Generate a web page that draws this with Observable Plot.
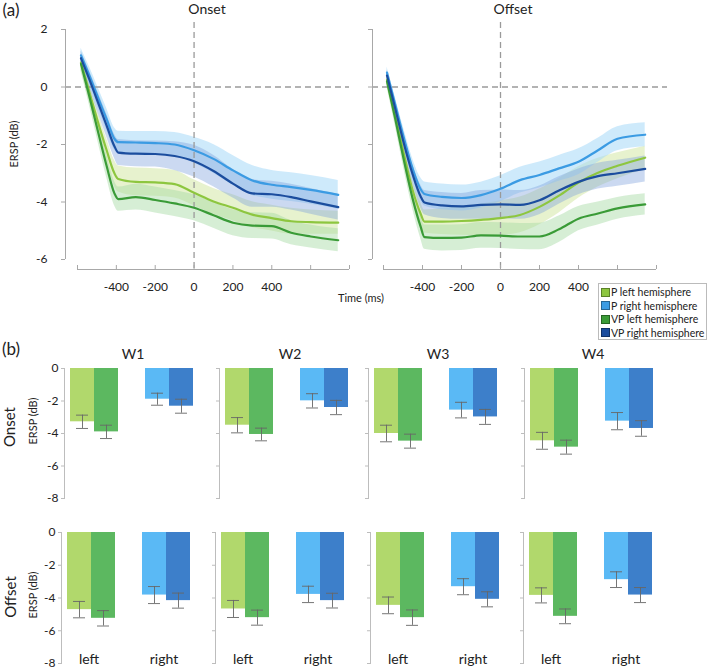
<!DOCTYPE html>
<html><head><meta charset="utf-8">
<script src="https://cdn.jsdelivr.net/npm/d3@7"></script>
<script src="https://cdn.jsdelivr.net/npm/@observablehq/plot@0.6"></script>
<style>
body{margin:0;background:#fff;font-family:Lato,"Open Sans",sans-serif;color:#222;}
#root{position:relative;width:709px;height:671px;overflow:hidden;background:#fff;}
.t{position:absolute;white-space:nowrap;transform:translate(-50%,-50%);line-height:1;}
.legend{position:absolute;border:1px solid #bbb;background:#fff;font-size:10.5px;box-sizing:border-box;}
.legend div{display:flex;align-items:center;height:13.5px;}
.legend span.sw{display:inline-block;width:9px;height:9px;margin:0 1px 0 2px;box-sizing:border-box;border:1px solid rgba(0,0,0,0.35);}
</style></head>
<body><div id="root"></div>
<script>
// ---------- data: panel (a) ----------
const times = [-582,-540,-500,-450,-410,-390,-300,-200,-100,0,100,200,300,400,500,600,742];
const seriesKeys = ["P left hemisphere","P right hemisphere","VP left hemisphere","VP right hemisphere"];
const lineColors = ["#8dc63f","#3b9be3","#3a9b37","#1b4d9e"];
const bandColors = ["#cfe59d","#a6d9f7","#a3d9a1","#7c9fdb"];
const bandOpacity = [0.5,0.55,0.45,0.4];

const onsetPLeft   = [0.85,-0.15,-1.1,-2.2,-3.0,-3.2,-3.3,-3.32,-3.38,-3.68,-3.98,-4.2,-4.44,-4.56,-4.67,-4.7,-4.72];
const onsetPRight  = [1.1,0.42,-0.27,-1.12,-1.8,-1.92,-1.93,-1.95,-2.0,-2.2,-2.5,-2.9,-3.25,-3.4,-3.48,-3.58,-3.75];
const onsetVPLeft  = [0.8,-0.3,-1.4,-2.75,-3.7,-3.9,-3.83,-3.93,-4.05,-4.2,-4.46,-4.72,-4.82,-4.84,-5.07,-5.2,-5.33];
const onsetVPRight = [1.0,0.28,-0.44,-1.34,-2.06,-2.28,-2.32,-2.33,-2.4,-2.58,-2.92,-3.36,-3.7,-3.73,-3.83,-3.98,-4.18];
const onsetSEPLeft   = [0.25,0.3,0.35,0.4,0.45,0.45,0.48,0.48,0.48,0.45,0.45,0.45,0.45,0.45,0.45,0.42,0.4];
const onsetSEPRight  = [0.25,0.3,0.35,0.38,0.38,0.38,0.38,0.4,0.42,0.45,0.5,0.52,0.52,0.5,0.5,0.5,0.5];
const onsetSEVPLeft  = [0.25,0.3,0.35,0.4,0.42,0.42,0.45,0.45,0.45,0.45,0.45,0.45,0.45,0.45,0.42,0.4,0.4];
const onsetSEVPRight = [0.25,0.3,0.35,0.4,0.42,0.45,0.45,0.45,0.5,0.55,0.55,0.5,0.48,0.45,0.45,0.45,0.45];

const offsetPLeft   = [0.25,-1.0,-2.2,-3.6,-4.4,-4.68,-4.68,-4.66,-4.62,-4.56,-4.45,-4.17,-3.78,-3.32,-2.98,-2.74,-2.46];
const offsetPRight  = [0.5,-0.6,-1.65,-2.85,-3.55,-3.72,-3.82,-3.86,-3.76,-3.54,-3.24,-3.06,-2.83,-2.6,-2.2,-1.8,-1.66];
const offsetVPLeft  = [0.2,-1.1,-2.4,-3.9,-4.85,-5.22,-5.25,-5.24,-5.16,-5.17,-5.2,-5.2,-4.95,-4.58,-4.4,-4.22,-4.08];
const offsetVPRight = [0.4,-0.75,-1.85,-3.05,-3.8,-4.02,-4.12,-4.15,-4.1,-4.08,-4.1,-3.94,-3.6,-3.3,-3.1,-3.0,-2.85];
const offsetSEPLeft   = [0.2,0.25,0.3,0.35,0.4,0.4,0.45,0.5,0.55,0.6,0.62,0.62,0.6,0.55,0.5,0.45,0.4];
const offsetSEPRight  = [0.2,0.25,0.3,0.35,0.4,0.42,0.45,0.45,0.45,0.45,0.45,0.45,0.45,0.45,0.42,0.42,0.42];
const offsetSEVPLeft  = [0.2,0.25,0.3,0.35,0.4,0.42,0.45,0.45,0.45,0.45,0.45,0.46,0.46,0.42,0.4,0.38,0.37];
const offsetSEVPRight = [0.2,0.25,0.3,0.35,0.4,0.42,0.45,0.45,0.5,0.5,0.5,0.5,0.48,0.45,0.45,0.45,0.45];

const xDomain = [-600, 800];
const yDomain = [-6, 2];
const xTicksAll = [-600,-400,-200,0,200,400,600,800];
const xTickLabels = [-400,-200,0,200,400];
const yTicks = [2,0,-2,-4,-6];

// ---------- data: panel (b) ----------
const windows = ["W1","W2","W3","W4"];
const hemis = ["left","right"];
const groups = ["P","VP"];
const barKeys = ["P left","VP left","P right","VP right"];
const barColors = ["#b1d86c","#5cb860","#5ab9f5","#3d7fca"];
const onsetBarPLeft   = [-3.28,-3.49,-4.0,-4.45];
const onsetBarVPLeft  = [-3.9,-4.06,-4.47,-4.84];
const onsetBarPRight  = [-1.89,-1.99,-2.56,-3.24];
const onsetBarVPRight = [-2.32,-2.4,-2.98,-3.69];
const onsetErrPLeft   = [0.41,0.47,0.51,0.52];
const onsetErrVPLeft  = [0.41,0.39,0.43,0.43];
const onsetErrPRight  = [0.37,0.44,0.48,0.53];
const onsetErrVPRight = [0.43,0.44,0.46,0.48];
const offsetBarPLeft   = [-4.71,-4.67,-4.45,-3.84];
const offsetBarVPLeft  = [-5.24,-5.2,-5.2,-5.12];
const offsetBarPRight  = [-3.82,-3.78,-3.31,-2.88];
const offsetBarVPRight = [-4.16,-4.16,-4.08,-3.82];
const offsetErrPLeft   = [0.5,0.52,0.51,0.46];
const offsetErrVPLeft  = [0.47,0.46,0.47,0.45];
const offsetErrPRight  = [0.52,0.5,0.49,0.48];
const offsetErrVPRight = [0.46,0.45,0.46,0.46];
const barYTicks = [0,-2,-4,-6,-8];

// ---------- helpers ----------
const root = document.getElementById("root");
function place(node, left, top) {
  node.style.position = "absolute";
  node.style.left = left + "px";
  node.style.top = top + "px";
  root.appendChild(node);
}
function label(str, cx, cy, size, rotate) {
  const d = document.createElement("div");
  d.className = "t";
  d.textContent = str;
  d.style.left = cx + "px";
  d.style.top = cy + "px";
  d.style.fontSize = size + "px";
  if (rotate) d.style.transform = "translate(-50%,-50%) rotate(-90deg)";
  root.appendChild(d);
}

function linePanel(means, ses, o) {
  const marks = [];
  const seriesRows = means.map((m, s) => m.map((v, i) => ({t: times[i], m: v, lo: v - ses[s][i], hi: v + ses[s][i]})));
  seriesRows.forEach((rows, s) => {
    marks.push(Plot.areaY(rows, {x: "t", y1: "lo", y2: "hi", fill: bandColors[s], fillOpacity: bandOpacity[s], curve: "monotone-x"}));
  });
  marks.push(Plot.ruleY([0], {stroke: "#9a9a9a", strokeWidth: 1.3, strokeDasharray: "6,4", insetLeft: o.zeroInsetLeft, insetRight: o.zeroInsetRight}));
  marks.push(Plot.ruleX([0], {stroke: "#9a9a9a", strokeWidth: 1.3, strokeDasharray: "6,4", insetTop: -7, insetBottom: -10}));
  seriesRows.forEach((rows, s) => {
    marks.push(Plot.line(rows, {x: "t", y: "m", stroke: lineColors[s], strokeWidth: 2.2, curve: "monotone-x"}));
  });
  marks.push(Plot.ruleY([yDomain[0]], {dy: 10, stroke: "#a8a8a8"}));
  marks.push(Plot.ruleX([xDomain[0]], {dx: o.yAxisDx, stroke: "#a8a8a8"}));
  marks.push(Plot.axisY({ticks: yTicks, tickSize: 4, tickPadding: 14, dx: o.yAxisDx, stroke: "#a8a8a8", tickFormat: o.yLabels ? (d => String(d)) : (() => ""), label: null}));
  marks.push(Plot.axisX({ticks: xTicksAll, tickSize: -4, dy: 10, stroke: "#a8a8a8", tickFormat: () => "", label: null}));
  marks.push(Plot.axisX({ticks: xTickLabels, tickSize: 0, tickPadding: 13, dy: 10, tickFormat: d => String(d), label: null}));
  return Plot.plot({
    width: o.width, height: 300,
    marginLeft: o.ml, marginRight: o.mr, marginTop: 29, marginBottom: 41,
    x: {domain: xDomain, axis: null},
    y: {domain: yDomain, axis: null},
    style: {fontFamily: "Lato, 'Open Sans', sans-serif", fontSize: "12px", background: "transparent", overflow: "visible", color: "#222"},
    marks
  });
}

function barPanel(vals, errs, w, o) {
  const rows = [0,1,2,3].map(k => ({
    key: barKeys[k], hemi: k < 2 ? "left" : "right", group: k % 2 === 0 ? "P" : "VP",
    value: vals[k][w], lo: vals[k][w] - errs[k][w], hi: vals[k][w] + errs[k][w]
  }));
  const marks = [
    Plot.barY(rows, {fx: "hemi", x: "group", y: "value", fill: "key"}),
    Plot.ruleX(rows, {fx: "hemi", x: "group", y1: "lo", y2: "hi", stroke: "#666", strokeWidth: 0.9}),
    Plot.tickY(rows, {fx: "hemi", x: "group", y: "lo", stroke: "#666", strokeWidth: 0.9, insetLeft: 6, insetRight: 6}),
    Plot.tickY(rows, {fx: "hemi", x: "group", y: "hi", stroke: "#666", strokeWidth: 0.9, insetLeft: 6, insetRight: 6}),
    Plot.frame({anchor: "left", facetAnchor: "left", stroke: "#bdbdbd"}),
    Plot.axisY({ticks: barYTicks, tickSize: 3, tickPadding: 3, stroke: "#bdbdbd", tickFormat: o.yLabels ? (d => String(d)) : (() => ""), label: null})
  ];
  if (o.fxLabels) marks.push(Plot.axisFx({anchor: "bottom", tickSize: 0, tickPadding: 0, dy: -9, fontSize: 14, label: null}));
  return Plot.plot({
    width: 157, height: o.height,
    marginLeft: 25, marginRight: 1, marginTop: 5, marginBottom: 5,
    fx: {domain: hemis, paddingInner: 0.273, paddingOuter: 0, label: null, ...(o.fxLabels ? {} : {axis: null})},
    x: {domain: groups, padding: 0, insetLeft: 5.5, axis: null},
    y: {domain: [-8, 0], axis: null},
    color: {domain: barKeys, range: barColors},
    style: {fontFamily: "Lato, 'Open Sans', sans-serif", fontSize: "12px", background: "transparent", overflow: "visible", color: "#222"},
    marks
  });
}

// ---------- panel (a) ----------
place(linePanel([onsetPLeft, onsetPRight, onsetVPLeft, onsetVPRight],
                 [onsetSEPLeft, onsetSEPRight, onsetSEVPLeft, onsetSEVPRight],
                 {width: 355, ml: 77, mr: 6, yAxisDx: -12, yLabels: true, zeroInsetLeft: -12, zeroInsetRight: 0}), 0, 0);
place(linePanel([offsetPLeft, offsetPRight, offsetVPLeft, offsetVPRight],
                 [offsetSEPLeft, offsetSEPRight, offsetSEVPLeft, offsetSEVPRight],
                 {width: 354, ml: 28, mr: 53, yAxisDx: -11, yLabels: false, zeroInsetLeft: -11, zeroInsetRight: -11}), 355, 0);

label("(a)", 11, 9, 17);
label("Onset", 207, 9, 14);
label("Offset", 513, 9, 14);
label("Time (ms)", 361, 297, 11);
label("ERSP (dB)", 13, 144, 11, true);

// legend
const lg = document.createElement("div");
lg.className = "legend";
lg.style.width = "109px"; lg.style.height = "57px"; lg.style.paddingTop = "1.5px";
seriesKeys.forEach((k, i) => {
  const row = document.createElement("div");
  const sw = document.createElement("span");
  sw.className = "sw"; sw.style.background = lineColors[i];
  row.appendChild(sw);
  row.appendChild(document.createTextNode(k));
  lg.appendChild(row);
});
place(lg, 598, 283);

// ---------- panel (b) ----------
const onsetVals = [onsetBarPLeft, onsetBarVPLeft, onsetBarPRight, onsetBarVPRight];
const onsetErrs = [onsetErrPLeft, onsetErrVPLeft, onsetErrPRight, onsetErrVPRight];
const offsetVals = [offsetBarPLeft, offsetBarVPLeft, offsetBarPRight, offsetBarVPRight];
const offsetErrs = [offsetErrPLeft, offsetErrVPLeft, offsetErrPRight, offsetErrVPRight];
const onsetAxisX = [62.7, 218.3, 367.3, 522.7];
const offsetAxisX = [60, 214, 369.3, 522.3];
const titleX = [133, 290, 438, 593];
windows.forEach((wName, w) => {
  place(barPanel(onsetVals, onsetErrs, w, {height: 140, yLabels: w === 0, fxLabels: false}), onsetAxisX[w] - 25, 363.3);
  place(barPanel(offsetVals, offsetErrs, w, {height: 141, yLabels: w === 0, fxLabels: true}), offsetAxisX[w] - 25, 526.7);
  label(wName, titleX[w], 354, 14);
});
label("(b)", 11, 348, 17);
label("Onset", 9, 427, 15, true);
label("ERSP (dB)", 32, 421, 11, true);
label("Offset", 10, 597, 15, true);
label("ERSP (dB)", 32, 595, 11, true);
</script>
</body></html>
